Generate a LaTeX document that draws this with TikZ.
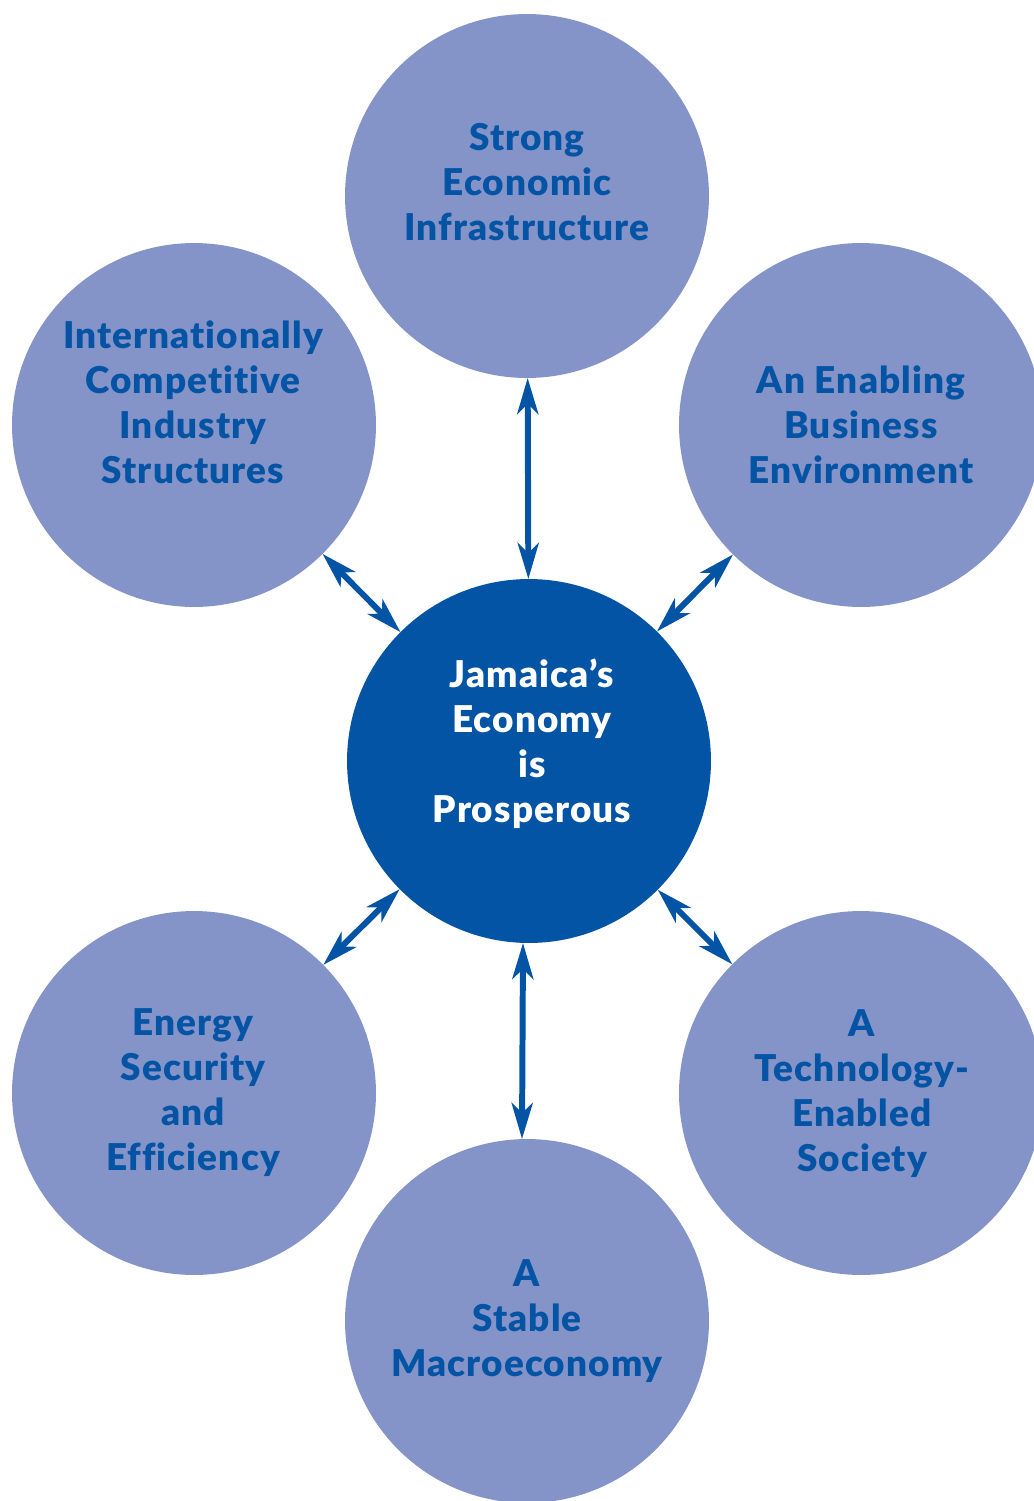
\documentclass[tikz,border=0pt]{standalone}
\usepackage{fontspec}
\setmainfont{Lato}[BoldFont={Lato Black}, Ligatures=NoCommon, LetterSpace=3]
\usetikzlibrary{arrows.meta}
\definecolor{ecoblue}{RGB}{4,84,165}
\definecolor{ecolight}{RGB}{133,148,200}
\begin{document}
\begin{tikzpicture}[x=0.02cm, y=-0.02cm]
      \tikzset{>={Stealth[length=0.72cm, width=0.42cm, inset=0.2cm]}}
      \tikzset{goal/.style={circle, fill=ecolight, minimum size=7.28cm, inner sep=0pt, outer sep=0pt},
               core/.style={goal, fill=ecoblue},
               goaltext/.style={text=ecoblue, font=\fontsize{21}{25.6}\selectfont\bfseries, align=center},
               coretext/.style={goaltext, text=white},
               link/.style={<->, ecoblue, line width=3.4pt}}

      \useasboundingbox (0,0) rectangle (1034,1501);
      \clip (0,0) rectangle (1034,1501);

      % circles
      \node[core] (econ) at (529,761) {};
      \node[goal] (infra) at (527,196) {};
      \node[goal] (intl) at (194,425) {};
      \node[goal] (enab) at (861,425) {};
      \node[goal] (energy) at (194,1093) {};
      \node[goal] (tech) at (861,1093) {};
      \node[goal] (macro) at (527,1321) {};

      % texts
      \node[coretext] (econ-t) at (532,744) {Jamaica’s\\Economy\\is\\Prosperous};
      \node[goaltext] (infra-t) at (527,182) {Strong\\Economic\\Infrastructure};
      \node[goaltext] (intl-t) at (193,402) {Internationally\\Competitive\\Industry\\Structures};
      \node[goaltext] (enab-t) at (861,425) {An Enabling\\Business\\Environment};
      \node[goaltext] (energy-t) at (193,1093) {Energy\\Security\\and\\Efficiency};
      \node[goaltext] (tech-t) at (862,1094) {A\\Technology-\\Enabled\\Society};
      \node[goaltext] (macro-t) at (527,1321) {A\\Stable\\Macroeconomy};

      \foreach \g in {infra, intl, enab, energy, tech} {
          \draw[link] (\g) -- (econ);
          }
      \draw[link] ([xshift=-0.12cm]econ.south) -- ([xshift=-0.1cm]macro.north);
\end{tikzpicture}
\end{document}
